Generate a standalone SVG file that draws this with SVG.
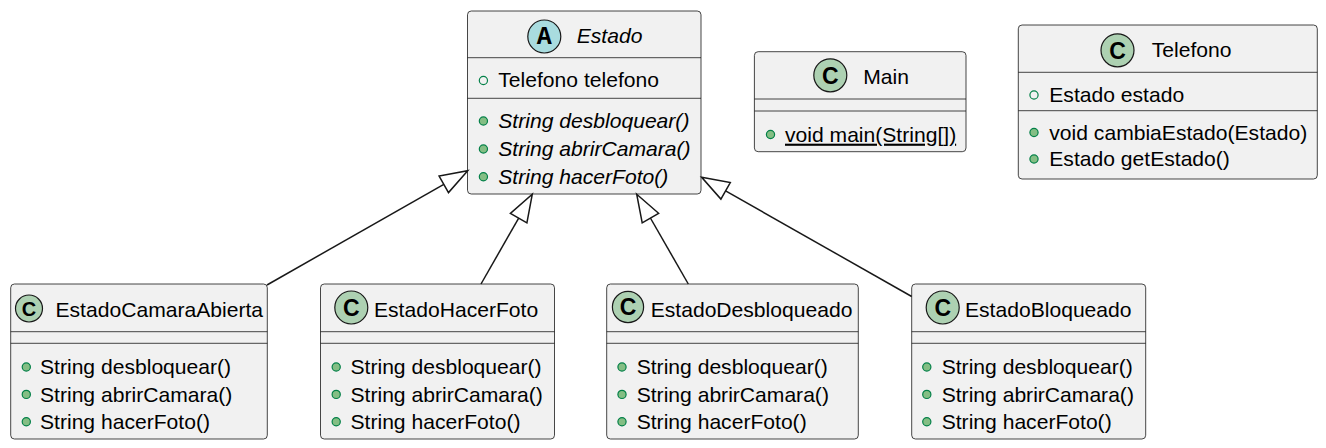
<svg xmlns="http://www.w3.org/2000/svg" width="1326" height="448" viewBox="0 0 1326 448">
<style>
.box{fill:#F1F1F1;stroke:#181818;stroke-width:0.8}
.dv{stroke:#181818;stroke-width:0.8}
.t{font-family:"Liberation Sans",Arial,sans-serif;font-size:21.1px;fill:#000000}
.i{font-style:italic}
.cc{fill:#ADD1B2;stroke:#181818;stroke-width:1.2}
.ac{fill:#A9DCDF;stroke:#181818;stroke-width:1.2}
.cl{font-family:"Liberation Sans",Arial,sans-serif;font-weight:bold;font-size:23px;text-anchor:middle;fill:#000000}
.al{font-family:"Liberation Mono","Courier New",monospace;font-weight:bold;font-size:25px;text-anchor:middle;fill:#000000}
.pub{fill:#84BE84;stroke:#038048;stroke-width:1.2}
.fld{fill:none;stroke:#038048;stroke-width:1.2}
.edge{stroke:#181818;stroke-width:1.5;fill:none}
.head{fill:none;stroke:#181818;stroke-width:1.5;stroke-linejoin:miter}
</style>
<rect width="1326" height="448" fill="#FFFFFF"/>

<g id="Estado">
<rect class="box" x="467.5" y="11" width="233.5" height="183" rx="3.75"/>
<line class="dv" x1="467.5" y1="57.7" x2="701" y2="57.7"/>
<line class="dv" x1="467.5" y1="98.3" x2="701" y2="98.3"/>
<circle class="ac" cx="544.3" cy="36.5" r="16.5"/>
<text class="al" x="544.3" y="43.5">A</text>
<text class="t i" x="576.7" y="43.3">Estado</text>
<circle class="fld" cx="483.4" cy="80.5" r="4.1"/>
<text class="t" x="498.3" y="87.3">Telefono telefono</text>
<circle class="pub" cx="483.4" cy="121" r="4.1"/>
<text class="t i" x="498.3" y="128.3">String desbloquear()</text>
<circle class="pub" cx="483.4" cy="149" r="4.1"/>
<text class="t i" x="498.3" y="156.2">String abrirCamara()</text>
<circle class="pub" cx="483.4" cy="176.8" r="4.1"/>
<text class="t i" x="498.3" y="184">String hacerFoto()</text>
</g>

<g id="Main">
<rect class="box" x="754.4" y="51.7" width="211.6" height="100" rx="3.75"/>
<line class="dv" x1="754.4" y1="99" x2="966" y2="99"/>
<line class="dv" x1="754.4" y1="111" x2="966" y2="111"/>
<circle class="cc" cx="830.3" cy="75.3" r="16.5"/>
<text class="cl" x="830.3" y="83.5">C</text>
<text class="t" x="863.3" y="84.3">Main</text>
<circle class="pub" cx="770.5" cy="134.5" r="4.1"/>
<text class="t" x="785" y="141.7" text-decoration="underline">void main(String[])</text>
</g>

<g id="Telefono">
<rect class="box" x="1018.3" y="25" width="299" height="154" rx="3.75"/>
<line class="dv" x1="1018.3" y1="72.3" x2="1317.3" y2="72.3"/>
<line class="dv" x1="1018.3" y1="110.7" x2="1317.3" y2="110.7"/>
<circle class="cc" cx="1117.5" cy="50.3" r="16.5"/>
<text class="cl" x="1117.5" y="58.5">C</text>
<text class="t" x="1151.7" y="56.9">Telefono</text>
<circle class="fld" cx="1034" cy="95" r="4.1"/>
<text class="t" x="1049.3" y="101.7">Estado estado</text>
<circle class="pub" cx="1034" cy="132.5" r="4.1"/>
<text class="t" x="1049.3" y="139.5">void cambiaEstado(Estado)</text>
<circle class="pub" cx="1034" cy="159" r="4.1"/>
<text class="t" x="1049.3" y="166">Estado getEstado()</text>
</g>

<g id="EstadoCamaraAbierta">
<rect class="box" x="10.7" y="284" width="256.6" height="155" rx="3.75"/>
<line class="dv" x1="10.7" y1="331.7" x2="267.3" y2="331.7"/>
<line class="dv" x1="10.7" y1="343.3" x2="267.3" y2="343.3"/>
<circle class="cc" cx="29" cy="308.5" r="13.5"/>
<text class="cl" x="29" y="315.6" style="font-size:20px">C</text>
<text class="t" x="55.5" y="317">EstadoCamaraAbierta</text>
<circle class="pub" cx="26.3" cy="367" r="4.1"/>
<text class="t" x="40" y="374.2">String desbloquear()</text>
<circle class="pub" cx="26.3" cy="394.4" r="4.1"/>
<text class="t" x="40" y="401.6">String abrirCamara()</text>
<circle class="pub" cx="26.3" cy="421.8" r="4.1"/>
<text class="t" x="40" y="429">String hacerFoto()</text>
</g>

<g id="EstadoHacerFoto">
<rect class="box" x="320.5" y="284" width="234" height="155" rx="3.75"/>
<line class="dv" x1="320.5" y1="331.7" x2="554.5" y2="331.7"/>
<line class="dv" x1="320.5" y1="343.3" x2="554.5" y2="343.3"/>
<circle class="cc" cx="351.3" cy="307.5" r="16.5"/>
<text class="cl" x="351.3" y="315.7">C</text>
<text class="t" x="374" y="317">EstadoHacerFoto</text>
<circle class="pub" cx="336.2" cy="367" r="4.1"/>
<text class="t" x="350.5" y="374.2">String desbloquear()</text>
<circle class="pub" cx="336.2" cy="394.4" r="4.1"/>
<text class="t" x="350.5" y="401.6">String abrirCamara()</text>
<circle class="pub" cx="336.2" cy="421.8" r="4.1"/>
<text class="t" x="350.5" y="429">String hacerFoto()</text>
</g>

<g id="EstadoDesbloqueado">
<rect class="box" x="606.7" y="284" width="251.6" height="155" rx="3.75"/>
<line class="dv" x1="606.7" y1="331.7" x2="858.3" y2="331.7"/>
<line class="dv" x1="606.7" y1="343.3" x2="858.3" y2="343.3"/>
<circle class="cc" cx="628" cy="307" r="15.6"/>
<text class="cl" x="628" y="315.2">C</text>
<text class="t" x="650.7" y="317">EstadoDesbloqueado</text>
<circle class="pub" cx="622" cy="367" r="4.1"/>
<text class="t" x="636.7" y="374.2">String desbloquear()</text>
<circle class="pub" cx="622" cy="394.4" r="4.1"/>
<text class="t" x="636.7" y="401.6">String abrirCamara()</text>
<circle class="pub" cx="622" cy="421.8" r="4.1"/>
<text class="t" x="636.7" y="429">String hacerFoto()</text>
</g>

<g id="EstadoBloqueado">
<rect class="box" x="911.7" y="284" width="234" height="155" rx="3.75"/>
<line class="dv" x1="911.7" y1="331.7" x2="1145.7" y2="331.7"/>
<line class="dv" x1="911.7" y1="343.3" x2="1145.7" y2="343.3"/>
<circle class="cc" cx="942.7" cy="307.5" r="16.5"/>
<text class="cl" x="942.7" y="315.7">C</text>
<text class="t" x="965" y="317">EstadoBloqueado</text>
<circle class="pub" cx="926.8" cy="367" r="4.1"/>
<text class="t" x="941.7" y="374.2">String desbloquear()</text>
<circle class="pub" cx="926.8" cy="394.4" r="4.1"/>
<text class="t" x="941.7" y="401.6">String abrirCamara()</text>
<circle class="pub" cx="926.8" cy="421.8" r="4.1"/>
<text class="t" x="941.7" y="429">String hacerFoto()</text>
</g>

<g id="connectors">
<line class="edge" x1="267" y1="285" x2="443.8" y2="184.3"/>
<polygon class="head" points="467.7,170.7 448.5,192.6 439.1,176.0"/>
<line class="edge" x1="481" y1="284" x2="518.7" y2="218.1"/>
<polygon class="head" points="532.3,194.2 526.9,222.8 510.4,213.4"/>
<line class="edge" x1="688.3" y1="284" x2="650.4" y2="218.0"/>
<polygon class="head" points="636.7,194.2 658.6,213.3 642.2,222.8"/>
<line class="edge" x1="911.7" y1="296.5" x2="725.6" y2="190.9"/>
<polygon class="head" points="701.7,177.3 730.3,182.6 720.9,199.1"/>
</g>
</svg>
